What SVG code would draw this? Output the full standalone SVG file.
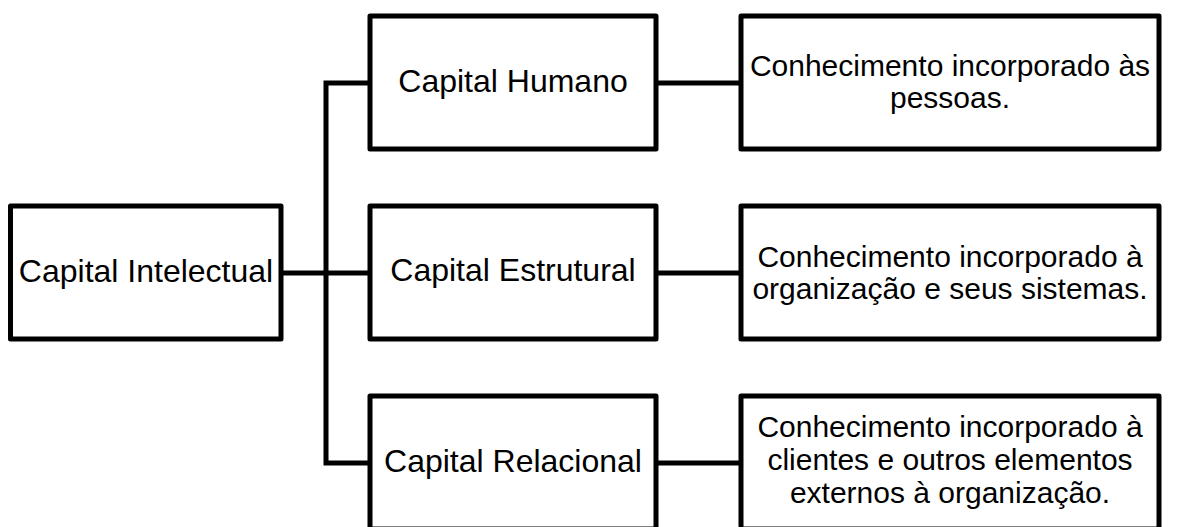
<svg xmlns="http://www.w3.org/2000/svg" width="1189" height="527" viewBox="0 0 1189 527">
  <style>
    .box { fill: #ffffff; stroke: #000000; stroke-width: 5; stroke-linejoin: round; }
    .wire { fill: none; stroke: #000000; stroke-width: 5; stroke-linejoin: miter; }
    .lbl { font-family: "Liberation Sans", Arial, sans-serif; font-size: 32px; fill: #000000; text-anchor: middle; }
    .desc { font-family: "Liberation Sans", Arial, sans-serif; font-size: 30px; fill: #000000; text-anchor: middle; }
  </style>
  <rect width="1189" height="527" fill="#ffffff"/>

  <!-- connectors -->
  <g id="connectors">
    <path class="wire" d="M281 273 H370"/>
    <path class="wire" d="M370 83 H326 V463 H370"/>
    <path class="wire" d="M656 83 H741"/>
    <path class="wire" d="M656 273 H741"/>
    <path class="wire" d="M656 463 H741"/>
  </g>

  <!-- root -->
  <g id="capital-intelectual">
    <rect class="box" x="10.5" y="206" width="270.5" height="133"/>
    <text class="lbl" x="146" y="282">Capital Intelectual</text>
  </g>

  <!-- second level -->
  <g id="capital-humano">
    <rect class="box" x="370" y="16" width="286" height="133"/>
    <text class="lbl" x="513" y="92">Capital Humano</text>
  </g>
  <g id="capital-estrutural">
    <rect class="box" x="370" y="206" width="286" height="133"/>
    <text class="lbl" x="513" y="281">Capital Estrutural</text>
  </g>
  <g id="capital-relacional">
    <rect class="box" x="370" y="396" width="286" height="133"/>
    <text class="lbl" x="513" y="472">Capital Relacional</text>
  </g>

  <!-- descriptions -->
  <g id="desc-humano">
    <rect class="box" x="741" y="16" width="418" height="133"/>
    <text class="desc" x="950" y="76">Conhecimento incorporado às</text>
    <text class="desc" x="950" y="107.5">pessoas.</text>
  </g>
  <g id="desc-estrutural">
    <rect class="box" x="741" y="206" width="418" height="133"/>
    <text class="desc" x="950" y="267">Conhecimento incorporado à</text>
    <text class="desc" x="950" y="298.5">organização e seus sistemas.</text>
  </g>
  <g id="desc-relacional">
    <rect class="box" x="741" y="396" width="418" height="133"/>
    <text class="desc" x="950" y="437">Conhecimento incorporado à</text>
    <text class="desc" x="950" y="470">clientes e outros elementos</text>
    <text class="desc" x="950" y="503">externos à organização.</text>
  </g>
</svg>
